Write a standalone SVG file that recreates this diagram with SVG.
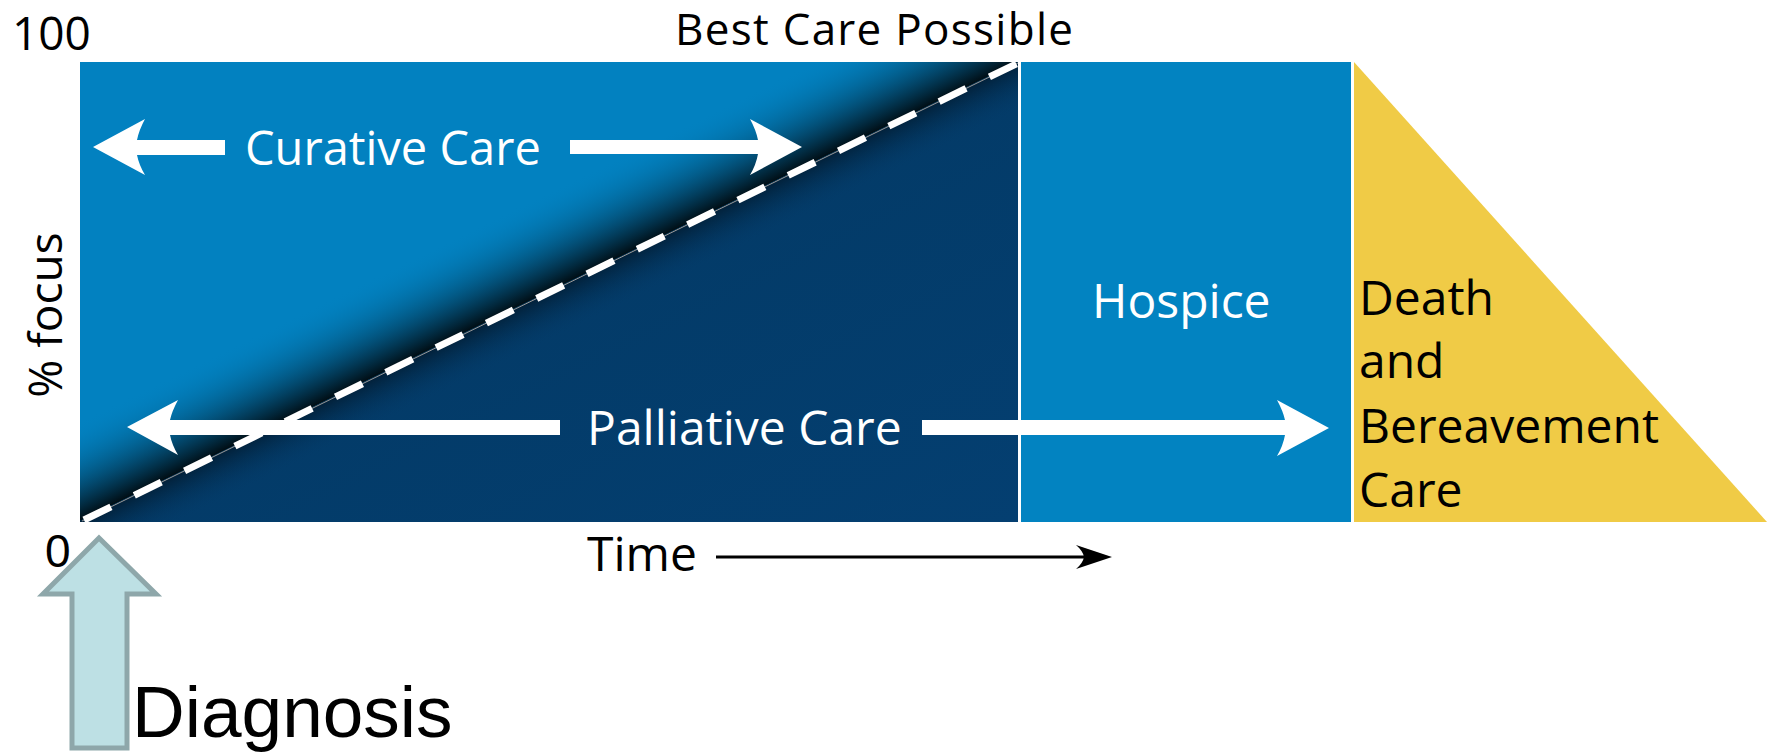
<svg xmlns="http://www.w3.org/2000/svg" width="1779" height="754" viewBox="0 0 1779 754">
<style>
.lbl{font-family:"Open Sans","Noto Sans","Liberation Sans",sans-serif;}
.w{fill:#ffffff;}
.k{fill:#000000;}
.arr{fill:#ffffff;}
</style>
<defs>
<linearGradient id="shUp" gradientUnits="userSpaceOnUse" x1="549.5" y1="291.5" x2="510.0" y2="210.7">
<stop offset="0" stop-color="#000000" stop-opacity="0.9"/>
<stop offset="0.3" stop-color="#031522" stop-opacity="0.55"/>
<stop offset="1" stop-color="#0281c0" stop-opacity="0"/>
</linearGradient>
<linearGradient id="shDn" gradientUnits="userSpaceOnUse" x1="549.5" y1="291.5" x2="569.3" y2="331.9">
<stop offset="0" stop-color="#000000" stop-opacity="0.45"/>
<stop offset="1" stop-color="#033d6f" stop-opacity="0"/>
</linearGradient>
<linearGradient id="navy" x1="0" y1="0" x2="1" y2="1">
<stop offset="0" stop-color="#02375f"/>
<stop offset="1" stop-color="#043f71"/>
</linearGradient>
</defs>
<rect width="1779" height="754" fill="#ffffff"/>

<g id="curative-region">
<rect x="80" y="62" width="938" height="460" fill="#0281c0"/>
<polygon points="80,62 1018,62 80,521" fill="url(#shUp)"/>
</g>
<g id="palliative-region">
<polygon points="80,521 1018,62 1018,522 80,522" fill="url(#navy)"/>
<polygon points="80,521 1018,62 1018,522 80,522" fill="url(#shDn)"/>
<line x1="82" y1="521" x2="1018" y2="63" stroke="#9a9a9a" stroke-width="1"/>
<line x1="84" y1="520" x2="1018" y2="63" stroke="#ffffff" stroke-width="7" stroke-dasharray="30 26"/>
</g>
<g id="hospice">
<rect x="1021" y="62" width="330" height="460" fill="#0283c1"/>
<text class="lbl w" x="1092" y="318" font-size="48">Hospice</text>
</g>
<g id="death-bereavement">
<polygon points="1354,62 1354,522 1767,522" fill="#f0cb46"/>
<text class="lbl k" font-size="48"><tspan x="1359" y="315">Death</tspan><tspan x="1359" y="378">and</tspan><tspan x="1359" y="443">Bereavement</tspan><tspan x="1359" y="507">Care</tspan></text>
</g>

<g id="connectors">
<path class="arr" d="M93,147 L145,119 Q139,130 137,140 L225,140 L225,155 L137,155 Q139,165 145,175 Z"/>
<path class="arr" d="M802,147 L750,119 Q756,130 758,140 L570,140 L570,154 L758,154 Q756,165 750,175 Z"/>
<path class="arr" d="M127,427 L178,400 Q172,411 170,420 L560,420 L560,435 L170,435 Q172,445 178,455 Z"/>
<path class="arr" d="M1329,428 L1277,400 Q1283,411 1285,420 L922,420 L922,435 L1285,435 Q1283,446 1277,456 Z"/>
<line x1="716" y1="557" x2="1090" y2="557" stroke="#000000" stroke-width="3"/>
<path d="M1112,557 L1076,545 Q1083,551 1084,557 Q1083,563 1076,569 Z" fill="#000000"/>
<polygon points="99,538 156,594 127,594 127,748 72,748 72,594 43,594" fill="#bde0e4" stroke="#8ea7aa" stroke-width="5" stroke-linejoin="miter"/>
</g>

<g id="labels">
<text class="lbl w" x="245" y="165" font-size="47">Curative Care</text>
<text class="lbl w" x="587" y="445" font-size="48">Palliative Care</text>
<text class="lbl k" x="12" y="50" font-size="46">100</text>
<text class="lbl k" x="675" y="45" font-size="44" textLength="398" lengthAdjust="spacing">Best Care Possible</text>
<text class="lbl k" x="587" y="571" font-size="48">Time</text>
<text class="lbl k" font-size="46" text-anchor="middle" transform="translate(62,315) rotate(-90)">% focus</text>
<text x="45" y="567" font-family="Liberation Sans, Arial, sans-serif" font-size="46" fill="#000000">0</text>
<text x="132" y="737" font-family="Liberation Sans, Arial, sans-serif" font-size="73" fill="#000000">Diagnosis</text>
</g>
</svg>
